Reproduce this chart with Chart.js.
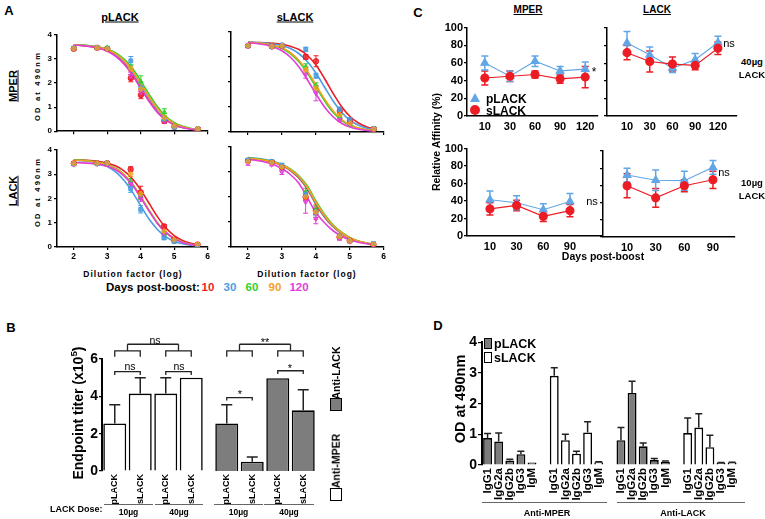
<!DOCTYPE html>
<html><head><meta charset="utf-8">
<script src="https://cdn.jsdelivr.net/npm/chart.js@4/dist/chart.umd.min.js"></script>
<style>
body{margin:0;width:765px;height:519px;background:#fff;position:relative;overflow:hidden;font-family:"Liberation Sans",Arial,Helvetica,sans-serif;font-weight:bold;color:#000}
.t{position:absolute;white-space:nowrap;line-height:1;transform:translate(-50%,-50%)}
.r{transform:translate(-50%,-50%) rotate(-90deg)}
.u{text-decoration:underline}
canvas{position:absolute}
.bx{position:absolute;box-sizing:border-box;border:1.5px solid #000}
.ln{position:absolute;height:0;border-top:1.5px solid #666}
</style></head><body>
<script>
// ---------------- DATA ----------------
// Panel A: ELISA titration curves (order of series: days 10, 30, 60, 90, 120)
const days = ['10', '30', '60', '90', '120'];
const dilX = [2, 2.7, 3, 3.7, 4, 4.7, 5, 5.7];
const fitX = [2, 2.25, 2.5, 2.75, 3, 3.25, 3.5, 3.75, 4, 4.25, 4.5, 4.75, 5, 5.25, 5.5, 5.75];
const aTicksX = [2, 3, 4, 5, 6];
const aTicksY = [0, 1, 2, 3, 4];

const mperP_pts = [
  [3.42, 3.46, 3.42, 2.20, 1.50, 0.42, 0.18, 0.08],
  [3.45, 3.46, 3.42, 2.92, 1.80, 0.50, 0.16, 0.10],
  [3.45, 3.46, 3.47, 2.65, 2.05, 0.78, 0.25, 0.10],
  [3.43, 3.46, 3.42, 2.60, 1.75, 0.55, 0.20, 0.10],
  [3.40, 3.45, 3.40, 2.30, 1.62, 0.42, 0.18, 0.08]];
const mperP_err = [
  [.05, .05, .05, .15, .15, .08, .05, .05],
  [.05, .05, .05, .18, .10, .05, .05, .05],
  [.05, .05, .05, .10, .25, .15, .05, .05],
  [.05, .05, .05, .10, .10, .08, .05, .05],
  [.05, .05, .05, .15, .15, .08, .05, .05]];
const mperP_fit = [
  [3.58, 3.56, 3.52, 3.45, 3.34, 3.13, 2.81, 2.35, 1.80, 1.25, 0.79, 0.47, 0.27, 0.15, 0.08, 0.04],
  [3.58, 3.56, 3.53, 3.47, 3.37, 3.19, 2.90, 2.47, 1.94, 1.38, 0.90, 0.54, 0.31, 0.17, 0.09, 0.05],
  [3.58, 3.57, 3.54, 3.49, 3.40, 3.25, 2.99, 2.60, 2.08, 1.52, 1.00, 0.61, 0.35, 0.20, 0.11, 0.06],
  [3.58, 3.56, 3.53, 3.48, 3.38, 3.21, 2.93, 2.51, 1.98, 1.42, 0.93, 0.56, 0.32, 0.18, 0.10, 0.05],
  [3.57, 3.55, 3.51, 3.44, 3.32, 3.11, 2.78, 2.32, 1.77, 1.22, 0.77, 0.46, 0.26, 0.14, 0.08, 0.04]];

const mperS_pts = [
  [3.45, 3.42, 3.45, 3.00, 2.83, 0.85, 0.45, 0.12],
  [3.45, 3.42, 3.48, 3.31, 2.25, 0.90, 0.50, 0.14],
  [3.45, 3.42, 3.45, 2.61, 1.85, 0.60, 0.30, 0.12],
  [3.45, 3.42, 3.45, 2.50, 1.75, 0.70, 0.35, 0.12],
  [3.43, 3.40, 3.42, 2.30, 1.55, 0.49, 0.30, 0.10]];
const mperS_err = [
  [.05, .05, .05, .10, .22, .10, .05, .05],
  [.05, .05, .05, .08, .10, .10, .05, .05],
  [.05, .05, .05, .12, .12, .08, .05, .05],
  [.05, .05, .05, .10, .12, .08, .05, .05],
  [.05, .05, .05, .15, .30, .08, .05, .05]];
const mperS_fit = [
  [3.59, 3.58, 3.57, 3.55, 3.51, 3.43, 3.30, 3.06, 2.68, 2.14, 1.55, 1.02, 0.62, 0.36, 0.20, 0.11],
  [3.59, 3.58, 3.56, 3.52, 3.45, 3.34, 3.13, 2.81, 2.35, 1.80, 1.25, 0.79, 0.47, 0.27, 0.15, 0.08],
  [3.58, 3.56, 3.52, 3.45, 3.34, 3.13, 2.81, 2.35, 1.80, 1.25, 0.79, 0.47, 0.27, 0.15, 0.08, 0.04],
  [3.58, 3.56, 3.53, 3.47, 3.37, 3.17, 2.86, 2.42, 1.88, 1.32, 0.85, 0.50, 0.29, 0.16, 0.09, 0.05],
  [3.57, 3.54, 3.49, 3.40, 3.25, 2.99, 2.60, 2.08, 1.52, 1.00, 0.61, 0.35, 0.20, 0.11, 0.06, 0.03]];

const lackP_pts = [
  [3.44, 3.45, 3.45, 3.20, 2.25, 0.85, 0.30, 0.10],
  [3.42, 3.43, 3.45, 2.40, 1.55, 0.37, 0.22, 0.08],
  [3.42, 3.45, 3.45, 2.70, 2.10, 0.55, 0.30, 0.10],
  [3.44, 3.45, 3.45, 3.00, 2.20, 0.65, 0.30, 0.12],
  [3.40, 3.42, 3.42, 2.60, 2.00, 0.50, 0.28, 0.10]];
const lackP_err = [
  [.05, .05, .05, .10, .25, .08, .05, .05],
  [.05, .05, .05, .15, .15, .05, .05, .05],
  [.05, .05, .05, .12, .15, .08, .05, .05],
  [.05, .05, .05, .10, .12, .08, .05, .05],
  [.05, .05, .05, .12, .12, .08, .05, .05]];
const lackP_fit = [
  [3.59, 3.58, 3.56, 3.52, 3.45, 3.34, 3.13, 2.81, 2.35, 1.80, 1.25, 0.79, 0.47, 0.27, 0.15, 0.08],
  [3.57, 3.55, 3.51, 3.44, 3.31, 3.09, 2.75, 2.27, 1.70, 1.15, 0.72, 0.42, 0.24, 0.13, 0.07, 0.04],
  [3.58, 3.57, 3.54, 3.49, 3.40, 3.25, 2.99, 2.60, 2.08, 1.52, 1.00, 0.61, 0.35, 0.20, 0.11, 0.06],
  [3.57, 3.56, 3.53, 3.48, 3.39, 3.23, 2.97, 2.58, 2.05, 1.49, 0.98, 0.60, 0.35, 0.20, 0.11, 0.06],
  [3.47, 3.46, 3.44, 3.40, 3.32, 3.18, 2.93, 2.55, 2.03, 1.48, 0.97, 0.60, 0.34, 0.19, 0.10, 0.05]];

const lackS_pts = [
  [3.45, 3.40, 3.20, 2.00, 1.45, 0.40, 0.25, 0.10],
  [3.48, 3.42, 3.27, 2.10, 1.40, 0.42, 0.25, 0.14],
  [3.45, 3.40, 3.20, 2.20, 1.50, 0.45, 0.25, 0.12],
  [3.42, 3.38, 3.20, 2.00, 1.40, 0.42, 0.25, 0.12],
  [3.35, 3.30, 3.00, 1.80, 1.13, 0.35, 0.22, 0.10]];
const lackS_err = [
  [.05, .05, .05, .12, .15, .08, .05, .05],
  [.05, .05, .08, .10, .15, .08, .05, .05],
  [.05, .05, .05, .15, .15, .08, .05, .05],
  [.05, .05, .05, .12, .30, .08, .05, .05],
  [.08, .05, .10, .45, .20, .08, .05, .05]];
const lackS_fit = [
  [3.52, 3.50, 3.46, 3.38, 3.26, 3.06, 2.76, 2.32, 1.72, 1.21, 0.82, 0.55, 0.35, 0.23, 0.15, 0.10],
  [3.58, 3.55, 3.50, 3.42, 3.29, 3.09, 2.79, 2.36, 1.75, 1.24, 0.84, 0.56, 0.36, 0.23, 0.15, 0.10],
  [3.56, 3.53, 3.48, 3.41, 3.30, 3.12, 2.85, 2.45, 1.85, 1.32, 0.90, 0.60, 0.38, 0.24, 0.16, 0.11],
  [3.55, 3.52, 3.47, 3.40, 3.28, 3.10, 2.82, 2.40, 1.80, 1.28, 0.87, 0.58, 0.37, 0.24, 0.16, 0.11],
  [3.50, 3.46, 3.40, 3.30, 3.14, 2.90, 2.55, 1.98, 1.38, 0.98, 0.66, 0.44, 0.29, 0.19, 0.13, 0.09]];

// Panel B: endpoint titers (x10^5)
const bCats = ['pLACK', 'sLACK', 'pLACK', 'sLACK'];
const bTicks = [0, 1, 2, 3, 4, 5, 6];
const bMper = [2.55, 4.15, 4.15, 5.0];
const bMperErr = [1.0, 0.85, 0.85, 0];
const bLack = [2.55, 0.5, 4.97, 3.25];
const bLackErr = [1.0, 0.25, 0, 1.1];
const bDoses = ['10µg', '40µg', '10µg', '40µg'];

// Panel C: relative affinity (%)
const c40Cats = ['10', '30', '60', '90', '120'];
const c10Cats = ['10', '30', '60', '90'];
const cTicks = [0, 20, 40, 60, 80, 100];
const c40MperP = [60, 45, 62, 51, 53],      c40MperPErr = [8, 6, 6, 5, 8];
const c40MperS = [43, 45, 47, 42, 44],      c40MperSErr = [8, 6, 4, 5, 12];
const c40LackP = [83, 69.5, 54.5, 64, 83.5], c40LackPErr = [13, 9, 5, 7, 7];
const c40LackS = [72, 62, 59, 57.5, 77],    c40LackSErr = [8, 12, 8, 5, 7];
const c10MperP = [41.5, 38, 30, 39.5],      c10MperPErr = [10, 8, 7, 9];
const c10MperS = [31, 35, 22.5, 29],        c10MperSErr = [7, 6, 6, 7];
const c10LackP = [72, 66, 65.5, 81],        c10LackPErr = [8, 12, 11, 8];
const c10LackS = [59.5, 45.5, 59.5, 66.5],  c10LackSErr = [14, 11, 7, 10];

// Panel D: isotypes, OD at 490nm
const isotypes = ['IgG1', 'IgG2a', 'IgG2b', 'IgG3', 'IgM'];
const dTicks = [0, 1, 2, 3, 4];
const dMperP = [0.88, 0.77, 0.15, 0.35, 0.08], dMperPErr = [0.15, 0.27, 0.04, 0.10, 0];
const dMperS = [2.91, 0.81, 0.37, 1.06, 0.09], dMperSErr = [0.26, 0.19, 0.08, 0.35, 0.02];
const dLackP = [0.81, 2.35, 0.61, 0.16, 0.11], dLackPErr = [0.41, 0.38, 0.11, 0.05, 0.02];
const dLackS = [1.04, 1.22, 0.58, 0.07, 0.08], dLackSErr = [0.49, 0.45, 0.39, 0.01, 0.01];

// ---------------- STYLE ----------------
const colA = ['#ee1c25', '#4a9de0', '#2fcf2f', '#f5a020', '#e040d8'];
const colAfill = ['rgba(238,28,37,0.8)', 'rgba(74,157,224,0.8)', 'rgba(47,207,47,0.7)', 'rgba(245,160,32,0.7)', 'rgba(224,64,216,0.7)'];
const ptStyle = ['circle', 'rect', 'triangle', 'rectRot', 'triangle'];
const ptRot = [0, 0, 0, 0, 180];
const ptOrder = [4, 1, 3, 0, 2];
const BLUE = '#62a6e6', RED = '#ec1c24', GRAY = '#7d7d7d';

Chart.defaults.font.family = '"Liberation Sans", Arial, Helvetica, sans-serif';
Chart.defaults.font.weight = 'bold';
Chart.defaults.color = '#000';
Chart.defaults.plugins.legend.display = false;
Chart.defaults.plugins.tooltip.enabled = false;

function drawErr(chart) {
  const ctx = chart.ctx;
  chart.data.datasets.forEach((ds, i) => {
    if (!ds.errs) return;
    const meta = chart.getDatasetMeta(i);
    const ys = chart.scales[meta.yAxisID];
    ctx.save();
    ctx.strokeStyle = ds.errColor || ds.borderColor;
    ctx.lineWidth = ds.errWidth || 1.2;
    meta.data.forEach((el, j) => {
      const e = ds.errs[j];
      const raw = ds.data[j];
      const v = raw == null ? null : (typeof raw === 'object' ? raw.y : raw);
      if (v == null || !e) return;
      const x = el.x, yT = ys.getPixelForValue(v + e);
      const yB = ds.errUp ? el.y : ys.getPixelForValue(v - e);
      const cw = ds.capW || 3;
      ctx.beginPath();
      ctx.moveTo(x, yB); ctx.lineTo(x, yT);
      ctx.moveTo(x - cw, yT); ctx.lineTo(x + cw, yT);
      if (!ds.errUp) { ctx.moveTo(x - cw, yB); ctx.lineTo(x + cw, yB); }
      ctx.stroke();
    });
    ctx.restore();
  });
}
const errPlugin = {
  id: 'errbars',
  beforeDatasetsDraw(chart) { if (chart.config.type !== 'bar') drawErr(chart); },
  afterDatasetsDraw(chart) { if (chart.config.type === 'bar') drawErr(chart); }
};
const bracketPlugin = {
  id: 'brackets',
  afterDatasetsDraw(chart, args, opts) {
    if (!opts || !opts.items) return;
    const ctx = chart.ctx, ys = chart.scales.y, els = chart.getDatasetMeta(0).data;
    const X = i => els[i].x, Y = v => ys.getPixelForValue(v);
    ctx.save(); ctx.strokeStyle = '#222'; ctx.lineWidth = 1.3;
    opts.items.forEach(it => {
      ctx.beginPath();
      if (it.top) {
        const m1 = (X(it.a) + X(it.a + 1)) / 2, m2 = (X(it.b) + X(it.b + 1)) / 2;
        ctx.moveTo(m1, Y(it.level)); ctx.lineTo(m2, Y(it.level));
      } else {
        ctx.moveTo(X(it.a), Y(it.drop)); ctx.lineTo(X(it.a), Y(it.level));
        ctx.lineTo(X(it.b), Y(it.level)); ctx.lineTo(X(it.b), Y(it.drop));
        if (it.rise != null) { const m = (X(it.a) + X(it.b)) / 2; ctx.moveTo(m, Y(it.level)); ctx.lineTo(m, Y(it.rise)); }
      }
      ctx.stroke();
    });
    ctx.restore();
  }
};
Chart.register(errPlugin, bracketPlugin);

function mk(area, m, yW, xH, cfg) {
  const c = document.createElement('canvas');
  const w = area[2] - area[0] + m[0] + m[2], h = area[3] - area[1] + m[1] + m[3];
  c.width = w; c.height = h;
  c.style.left = (area[0] - m[0]) + 'px'; c.style.top = (area[1] - m[1]) + 'px';
  c.style.width = w + 'px'; c.style.height = h + 'px';
  document.body.appendChild(c);
  const o = cfg.options;
  o.responsive = false; o.animation = false; o.devicePixelRatio = 1;
  o.layout = { autoPadding: false, padding: { left: m[0] - yW, top: m[1], right: m[2], bottom: m[3] - xH } };
  if (o.scales.y.display !== false) o.scales.y.afterFit = s => { s.width = yW; };
  if (o.scales.x.display !== false) o.scales.x.afterFit = s => { s.height = xH; };
  return new Chart(c, cfg);
}
function linAxis(min, max, vals, o) {
  o = o || {};
  return {
    type: 'linear', min, max,
    afterBuildTicks: s => { s.ticks = vals.map(v => ({ value: v })); },
    ticks: { display: o.labels !== false, font: { size: o.size || 8, weight: 'bold' }, color: '#000', padding: o.pad == null ? 2 : o.pad, callback: o.cb || (v => String(v)) },
    grid: { display: o.grid !== false, drawOnChartArea: false, drawTicks: o.grid !== false, tickLength: o.tick || 3, color: '#000', lineWidth: 1.2 },
    border: { display: true, color: '#000', width: o.lw || 1.5 }
  };
}
function T(s, x, y, size, o) {
  o = o || {};
  const d = document.createElement('div');
  d.className = 't' + (o.rot ? ' r' : '') + (o.u ? ' u' : '');
  d.innerHTML = s;
  d.style.left = x + 'px'; d.style.top = y + 'px'; d.style.fontSize = size + 'px';
  if (o.color) d.style.color = o.color;
  if (o.ls) d.style.letterSpacing = o.ls + 'px';
  if (o.w) d.style.fontWeight = o.w;
  if (o.left) d.style.transform = 'translate(0,-50%)';
  document.body.appendChild(d);
  return d;
}
function box(l, t, w, h, bg) { const d = document.createElement('div'); d.className = 'bx'; d.style.cssText = `left:${l}px;top:${t}px;width:${w}px;height:${h}px;background:${bg}`; document.body.appendChild(d); }
function hline(l, t, w) { const d = document.createElement('div'); d.className = 'ln'; d.style.cssText = `left:${l}px;top:${t}px;width:${w}px`; document.body.appendChild(d); }

// ---------------- PANEL A ----------------
function aChart(area, pts, errs, fits, left, bottom) {
  const ds = [];
  pts.forEach((ys, k) => ds.push({
    data: dilX.map((x, i) => ({ x, y: ys[i] })), showLine: false,
    pointStyle: ptStyle[k], rotation: ptRot[k], pointRotation: ptRot[k], pointRadius: 2.7, pointBorderWidth: 1,
    pointBackgroundColor: colAfill[k], pointBorderColor: colA[k], borderColor: colA[k],
    errs: errs[k], capW: 2.5, errWidth: 1, order: ptOrder[k]
  }));
  fits.forEach((ys, k) => ds.push({
    data: fitX.map((x, i) => ({ x, y: ys[i] })), showLine: true, pointRadius: 0,
    borderColor: colA[k], borderWidth: 1.6, cubicInterpolationMode: 'monotone', fill: false, order: 10 + (4 - k)
  }));
  mk(area, [left ? 14 : 6, 4, 4, bottom ? 16 : 6], left ? 12 : 4, bottom ? 15 : 5, {
    type: 'line', data: { datasets: ds },
    options: { scales: {
      x: linAxis(1.5, 6, aTicksX, { labels: bottom, size: 8.5, pad: 2 }),
      y: linAxis(0, 4, aTicksY, { labels: left, size: 8, pad: 2 })
    } }
  });
}
aChart([57, 32, 208, 132], mperP_pts, mperP_err, mperP_fit, true, false);
aChart([231, 32, 384, 132], mperS_pts, mperS_err, mperS_fit, false, false);
aChart([57, 147, 208, 247], lackP_pts, lackP_err, lackP_fit, true, true);
aChart([231, 147, 384, 247], lackS_pts, lackS_err, lackS_fit, false, true);

T('A', 9, 10, 13);
T('pLACK', 120, 17, 11, { u: 1 });
T('sLACK', 295, 17, 11, { u: 1 });
T('MPER', 13, 86, 11, { rot: 1, u: 1 });
T('LACK', 13, 191, 11, { rot: 1, u: 1 });
T('OD at 490nm', 38, 86, 7.5, { rot: 1, ls: 2.2 });
T('OD at 490nm', 38, 192, 7.5, { rot: 1, ls: 2.2 });
T('Dilution factor (log)', 133, 274, 8.5, { ls: 1 });
T('Dilution factor (log)', 307, 274, 8.5, { ls: 1 });
T('Days post-boost:', 106, 288, 11.5, { left: 1 });
const legX = [208, 230, 252, 275, 299];
days.forEach((d, k) => T(d, legX[k], 288, 11.5, { color: colA[k] }));

// ---------------- PANEL B ----------------
function bChart(area, vals, errs, fill, showY, items) {
  mk(area, [showY ? 22 : 2, 22, 2, 40], showY ? 20 : 0, 38, {
    type: 'bar',
    data: { labels: bCats, datasets: [{
      data: vals, backgroundColor: fill, borderColor: '#000', borderWidth: 1.6,
      barPercentage: 0.9, categoryPercentage: 1, errs, errUp: true, capW: 5.5, errWidth: 1.5, errColor: '#222'
    }] },
    options: {
      plugins: { brackets: { items } },
      scales: {
        x: { type: 'category', offset: true,
          ticks: { autoSkip: false, minRotation: 90, maxRotation: 90, font: { size: 9, weight: 'bold' }, padding: 3 },
          grid: { display: false, drawTicks: false }, border: { display: false } },
        y: showY ? linAxis(0, 6, bTicks, { size: 14, pad: 1, tick: 3, lw: 2 }) : { type: 'linear', min: 0, max: 6, display: false }
      }
    }
  });
}
bChart([102, 359, 204, 471], bMper, bMperErr, '#fff', true, [
  { a: 0, b: 1, level: 5.32, drop: 5.14 },
  { a: 2, b: 3, level: 5.32, drop: 5.14 },
  { a: 0, b: 1, level: 6.44, drop: 6.12, rise: 6.79 },
  { a: 2, b: 3, level: 6.44, drop: 6.12, rise: 6.79 },
  { top: 1, a: 0, b: 2, level: 6.79 }]);
bChart([214, 359, 316, 471], bLack, bLackErr, GRAY, false, [
  { a: 0, b: 1, level: 3.93, drop: 3.78 },
  { a: 2, b: 3, level: 5.37, drop: 5.2 },
  { a: 0, b: 1, level: 6.44, drop: 6.12, rise: 6.79 },
  { a: 2, b: 3, level: 6.44, drop: 6.12, rise: 6.79 },
  { top: 1, a: 0, b: 2, level: 6.79 }]);

T('B', 11, 327, 13);
T('Endpoint titer (x10<span style="font-size:0.7em;vertical-align:0.55em">5</span>)', 77, 413, 14, { rot: 1 });
T('ns', 155, 340, 10.5, { w: 'normal' });
T('ns', 130, 366, 10.5, { w: 'normal' });
T('ns', 179, 366, 10.5, { w: 'normal' });
T('**', 265, 342, 11, { w: 'normal' });
T('*', 240, 394, 11, { w: 'normal' });
T('*', 290, 368, 11, { w: 'normal' });
T('LACK Dose:', 50, 509, 9, { left: 1 });
hline(104, 504, 49); hline(155, 504, 48); hline(214, 504, 49); hline(264, 504, 50);
const doseX = [128.5, 179, 238.5, 289];
bDoses.forEach((d, k) => T(d, doseX[k], 512, 8.5));
box(330, 398, 12, 13, GRAY);
T('Anti-LACK', 336, 373, 10.5, { rot: 1 });
box(330, 488, 12, 13, '#fff');
T('Anti-MPER', 336, 461, 10.5, { rot: 1 });

// ---------------- PANEL C ----------------
function cChart(area, cats, xmin, xmax, p, pe, s, se, left) {
  const idx = cats.map((c, i) => i);
  mk(area, [left ? 26 : 6, 6, 2, 18], left ? 24 : 4, 16, {
    type: 'line',
    data: { datasets: [
      { data: idx.map(i => ({ x: i, y: s[i] })), borderColor: RED, borderWidth: 1.1, pointStyle: 'circle', pointRadius: 4,
        pointBackgroundColor: RED, pointBorderColor: RED, errs: se, capW: 3.5, errWidth: 1.5 },
      { data: idx.map(i => ({ x: i, y: p[i] })), borderColor: BLUE, borderWidth: 1.1, pointStyle: 'triangle', pointRadius: 4.5,
        pointBackgroundColor: BLUE, pointBorderColor: BLUE, errs: pe, capW: 3.5, errWidth: 1.5 }
    ] },
    options: { scales: {
      x: linAxis(xmin, xmax, idx, { size: 11, pad: 4, grid: false, cb: v => cats[v] }),
      y: linAxis(0, 100, cTicks, { labels: left, size: 11, pad: 1, tick: 3 })
    } }
  });
}
cChart([467, 26, 598, 116], c40Cats, -0.71, 4.51, c40MperP, c40MperPErr, c40MperS, c40MperSErr, true);
cChart([607, 28, 737, 116], c40Cats, -0.88, 4.84, c40LackP, c40LackPErr, c40LackS, c40LackSErr, false);
cChart([467, 147, 602, 236], c10Cats, -0.86, 4.2, c10MperP, c10MperPErr, c10MperS, c10MperSErr, true);
cChart([603, 151, 735, 237], c10Cats, -0.84, 3.77, c10LackP, c10LackPErr, c10LackS, c10LackSErr, false);

T('C', 418, 12, 13);
T('MPER', 528, 10, 10, { u: 1 });
T('LACK', 657, 10, 10, { u: 1 });
T('Relative Affinity (%)', 436, 142, 10.5, { rot: 1 });
T('Days post-boost', 603, 256, 10.5);
T('40µg', 752, 62, 9.5); T('LACK', 752, 75, 9.5);
T('10µg', 752, 183, 9.5); T('LACK', 752, 196, 9.5);
T('*', 594, 72, 12, { w: 'normal' });
T('ns', 729, 43, 11, { w: 'normal' });
T('ns', 592, 201, 11, { w: 'normal' });
T('ns', 724, 172, 11, { w: 'normal' });
(function () {
  const tri = document.createElement('div');
  tri.style.cssText = `position:absolute;left:470px;top:93px;width:0;height:0;border-left:5px solid transparent;border-right:5px solid transparent;border-bottom:9px solid ${BLUE}`;
  document.body.appendChild(tri);
  const cir = document.createElement('div');
  cir.style.cssText = `position:absolute;left:470px;top:105px;width:10px;height:10px;border-radius:50%;background:${RED}`;
  document.body.appendChild(cir);
})();
T('pLACK', 486, 99, 12, { left: 1 });
T('sLACK', 486, 111, 12, { left: 1 });

// ---------------- PANEL D ----------------
const nul5 = [null, null, null, null, null];
const dCats = [...isotypes, '', ...isotypes, '', ...isotypes, '', ...isotypes];
mk([482, 339, 745, 465], [22, 6, 4, 40], 20, 38, {
  type: 'bar',
  data: { labels: dCats, datasets: [
    { data: [...dMperP, null, ...nul5, null, ...dLackP, null, ...nul5], errs: [...dMperPErr, 0, ...nul5, 0, ...dLackPErr, 0, ...nul5],
      backgroundColor: GRAY, borderColor: '#000', borderWidth: 1.6, barPercentage: 0.8, categoryPercentage: 1, grouped: false,
      errUp: true, capW: 3.5, errWidth: 1.5, errColor: '#222' },
    { data: [...nul5, null, ...dMperS, null, ...nul5, null, ...dLackS], errs: [...nul5, 0, ...dMperSErr, 0, ...nul5, 0, ...dLackSErr],
      backgroundColor: '#fff', borderColor: '#000', borderWidth: 1.6, barPercentage: 0.8, categoryPercentage: 1, grouped: false,
      errUp: true, capW: 3.5, errWidth: 1.5, errColor: '#222' }
  ] },
  options: { scales: {
    x: { type: 'category', offset: true,
      ticks: { autoSkip: false, minRotation: 90, maxRotation: 90, font: { size: 11.5, weight: 'bold' }, padding: 3 },
      grid: { display: false, drawTicks: false }, border: { display: false } },
    y: linAxis(0, 4, dTicks, { size: 14, pad: 1, tick: 4, lw: 2 })
  } }
});
T('D', 438, 325, 13);
T('OD at 490nm', 460, 399, 14.5, { rot: 1 });
box(484, 338, 8, 11, GRAY); T('pLACK', 494, 344, 12.5, { left: 1 });
box(484, 352, 8, 11, '#fff'); T('sLACK', 494, 358, 12.5, { left: 1 });
hline(482, 502, 125); hline(617, 502, 128);
T('Anti-MPER', 547, 513, 9);
T('Anti-LACK', 683, 513, 9);
</script>
</body></html>
